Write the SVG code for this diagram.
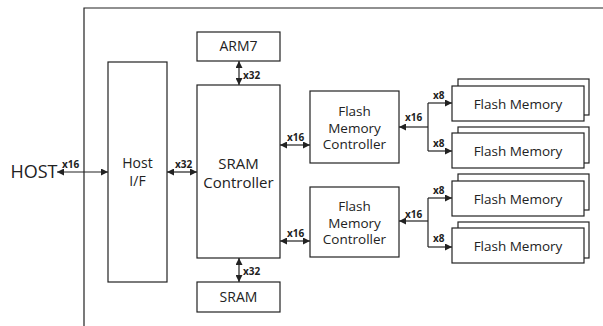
<svg xmlns="http://www.w3.org/2000/svg" width="603" height="326" viewBox="0 0 603 326">
<style>
.box{fill:#fff;stroke:#222;stroke-width:1.2}
.ln{fill:none;stroke:#222;stroke-width:1.2}
.t{font-family:"Open Sans","Noto Sans CJK KR",sans-serif;fill:#222;text-anchor:middle}
.lb{font-family:"Open Sans","Noto Sans CJK KR",sans-serif;font-weight:bold;font-size:10px;fill:#222}
</style>
<defs>
<marker id="ah" viewBox="0 0 8 8" refX="8" refY="4" markerWidth="7" markerHeight="7" markerUnits="userSpaceOnUse" orient="auto-start-reverse">
<path d="M0,0 L8,4 L0,8 z" fill="#222"/>
</marker>
</defs>
<rect width="603" height="326" fill="#fff"/>
<g id="frame"><path class="ln" d="M84,326 V8 H603"/></g>
<g id="host"><text class="t" x="34" y="178" font-size="18">HOST</text></g>
<g id="hostif"><rect class="box" x="108" y="62" width="59" height="220"/><text class="t" x="137.5" y="168" font-size="14">Host</text><text class="t" x="137.5" y="186" font-size="14">I/F</text></g>
<g id="arm7"><rect class="box" x="197" y="32" width="83" height="29"/><text class="t" x="238.5" y="51" font-size="14">ARM7</text></g>
<g id="sramc"><rect class="box" x="197" y="85" width="83" height="173"/><text class="t" x="238.5" y="169" font-size="15">SRAM</text><text class="t" x="238.5" y="188" font-size="15">Controller</text></g>
<g id="sram"><rect class="box" x="197" y="282" width="83" height="30"/><text class="t" x="238.5" y="302" font-size="14">SRAM</text></g>
<g id="fmc1"><rect class="box" x="310" y="91" width="89" height="72"/><text class="t" x="354.5" y="116" font-size="13.5">Flash</text><text class="t" x="354.5" y="132.5" font-size="13.5">Memory</text><text class="t" x="354.5" y="149" font-size="13.5">Controller</text></g>
<g id="fmc2"><rect class="box" x="310" y="187" width="89" height="70"/><text class="t" x="354.5" y="211" font-size="13.5">Flash</text><text class="t" x="354.5" y="227.5" font-size="13.5">Memory</text><text class="t" x="354.5" y="244" font-size="13.5">Controller</text></g>
<g id="fm1"><rect class="box" x="458" y="79" width="131" height="36"/><rect class="box" x="452" y="86" width="132" height="35"/><text class="t" x="518" y="109" font-size="13.5">Flash Memory</text></g>
<g id="fm2"><rect class="box" x="458" y="127" width="131" height="36"/><rect class="box" x="452" y="133" width="132" height="35"/><text class="t" x="518" y="156" font-size="13.5">Flash Memory</text></g>
<g id="fm3"><rect class="box" x="458" y="174" width="131" height="36"/><rect class="box" x="452" y="181" width="132" height="35"/><text class="t" x="518" y="204" font-size="13.5">Flash Memory</text></g>
<g id="fm4"><rect class="box" x="458" y="222" width="131" height="36"/><rect class="box" x="452" y="228" width="132" height="35"/><text class="t" x="518" y="251" font-size="13.5">Flash Memory</text></g>
<g id="connectors">
<line class="ln" x1="57" y1="172" x2="108" y2="172" marker-start="url(#ah)" marker-end="url(#ah)"/>
<line class="ln" x1="167" y1="172" x2="197" y2="172" marker-start="url(#ah)" marker-end="url(#ah)"/>
<line class="ln" x1="239" y1="61" x2="239" y2="85" marker-start="url(#ah)" marker-end="url(#ah)"/>
<line class="ln" x1="239" y1="258" x2="239" y2="282" marker-start="url(#ah)" marker-end="url(#ah)"/>
<line class="ln" x1="280" y1="145" x2="310" y2="145" marker-start="url(#ah)" marker-end="url(#ah)"/>
<line class="ln" x1="280" y1="241" x2="310" y2="241" marker-start="url(#ah)" marker-end="url(#ah)"/>
<line class="ln" x1="428" y1="127" x2="399" y2="127" marker-end="url(#ah)"/>
<path class="ln" d="M428,103 V151"/>
<line class="ln" x1="428" y1="103" x2="452" y2="103" marker-end="url(#ah)"/>
<line class="ln" x1="428" y1="151" x2="452" y2="151" marker-end="url(#ah)"/>
<line class="ln" x1="428" y1="221" x2="399" y2="221" marker-end="url(#ah)"/>
<path class="ln" d="M428,198 V247"/>
<line class="ln" x1="428" y1="198" x2="452" y2="198" marker-end="url(#ah)"/>
<line class="ln" x1="428" y1="247" x2="452" y2="247" marker-end="url(#ah)"/>
<text class="lb" x="62" y="168">x16</text>
<text class="lb" x="175" y="168">x32</text>
<text class="lb" x="243" y="79">x32</text>
<text class="lb" x="243" y="275">x32</text>
<text class="lb" x="287" y="141">x16</text>
<text class="lb" x="287" y="237">x16</text>
<text class="lb" x="405" y="121">x16</text>
<text class="lb" x="405" y="218">x16</text>
<text class="lb" x="433" y="99">x8</text>
<text class="lb" x="433" y="147">x8</text>
<text class="lb" x="433" y="194">x8</text>
<text class="lb" x="433" y="242">x8</text>
</g>
</svg>
